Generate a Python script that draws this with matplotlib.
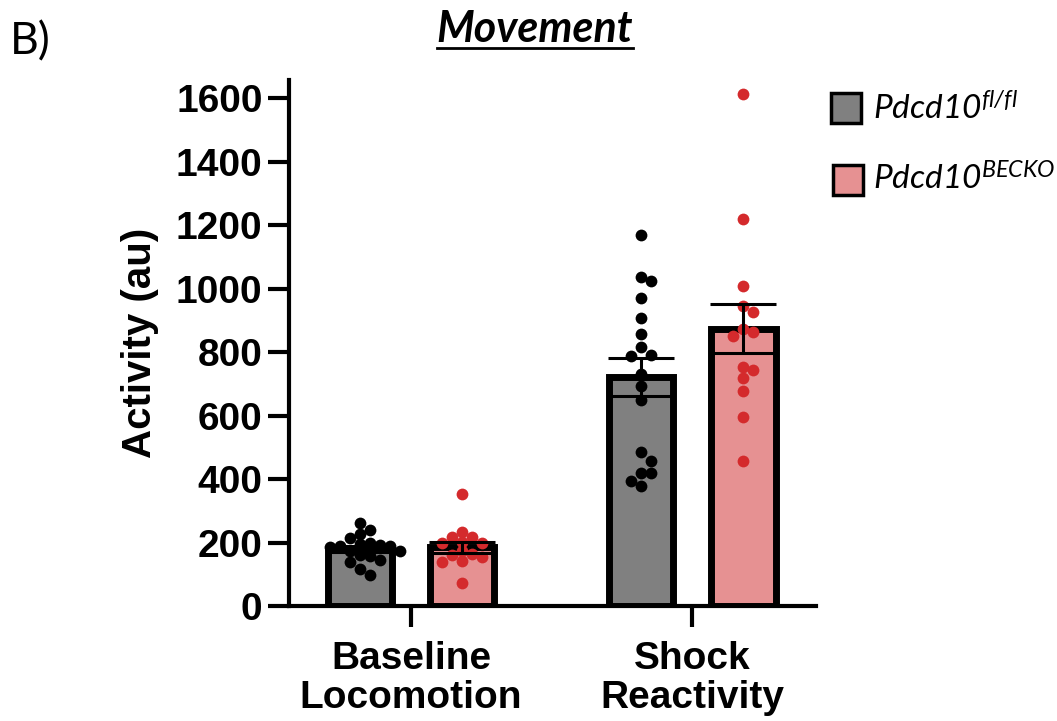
import numpy as np
import matplotlib
matplotlib.use('Agg')
import matplotlib.pyplot as plt
from matplotlib.patches import Rectangle
from matplotlib.lines import Line2D

plt.rcParams['font.family'] = ['Liberation Sans', 'DejaVu Sans']
plt.rcParams['mathtext.fontset'] = 'custom'
plt.rcParams['mathtext.it'] = 'Lato:italic'
plt.rcParams['mathtext.rm'] = 'Lato:italic'

GROUPS = ['Baseline\nLocomotion', 'Shock\nReactivity']
LEGEND_LABELS = [r'$\mathit{Pdcd10}^{fl/fl}$', r'$\mathit{Pdcd10}^{BECKO}$']

# single animals
flox_baseline = [262, 239, 226, 213, 200, 195, 192, 190, 188, 185, 173, 173,
                 160, 157, 145, 140, 116, 98]
becko_baseline = [352, 232, 218, 218, 203, 200, 197, 174, 164, 161, 153, 142,
                  140, 71]
flox_shock = [1170, 1037, 1025, 970, 908, 856, 815, 792, 788, 732, 693, 650,
              485, 458, 418, 418, 394, 378]
becko_shock = [1612, 1218, 1007, 945, 926, 873, 863, 851, 752, 745, 719, 677,
               596, 457]

# bar heights (mean) and error bars (SEM)
flox_mean = [180, 722]
flox_sem = [10, 59]
becko_mean = [185, 874]
becko_sem = [18, 76]

GREY = '#808080'
PINK = '#E69192'
RED = '#D42A2C'


def swarm_x(ax, values, center, step_px, min_dist_px):
    # simple greedy beeswarm, done in pixel space
    trans = ax.transData
    px_per_x = trans.transform((1, 0))[0] - trans.transform((0, 0))[0]
    ys = trans.transform(np.column_stack([np.zeros(len(values)), values]))[:, 1]
    placed = []
    xs = np.zeros(len(values))
    for i in np.argsort(values)[::-1]:
        for k in range(0, 30):
            cands = [0] if k == 0 else [k, -k]
            ok = None
            for c in cands:
                cx = c * step_px
                if all((cx - px) ** 2 + (ys[i] - py) ** 2 >= min_dist_px ** 2
                       for px, py in placed):
                    ok = cx
                    break
            if ok is not None:
                placed.append((ok, ys[i]))
                xs[i] = center + ok / px_per_x
                break
    return xs


fig = plt.figure(figsize=(10.57, 7.21), dpi=100)
ax = fig.add_axes([289 / 1057, 1 - 606 / 721, 527 / 1057, 526 / 721])

x = np.arange(len(GROUPS))
off = 0.183
width = 0.228
ax.set_xlim(-0.434, 1.441)
ax.set_ylim(0, 1657)

ax.bar(x - off, flox_mean, width, color=GREY, edgecolor='black', linewidth=5, zorder=2)
ax.bar(x + off, becko_mean, width, color=PINK, edgecolor='black', linewidth=5, zorder=2)

for i, vals in enumerate([flox_baseline, flox_shock]):
    ax.scatter(swarm_x(ax, vals, x[i] - off, 10, 9), vals, s=72, color='black',
               linewidths=0, zorder=3)
for i, vals in enumerate([becko_baseline, becko_shock]):
    ax.scatter(swarm_x(ax, vals, x[i] + off, 10, 9), vals, s=72, color=RED,
               linewidths=0, zorder=3)

ax.errorbar(x - off, flox_mean, yerr=flox_sem, fmt='none', ecolor='black',
            elinewidth=2.2, capsize=24, capthick=2.2, zorder=4)
ax.errorbar(x + off, becko_mean, yerr=becko_sem, fmt='none', ecolor='black',
            elinewidth=2.2, capsize=24, capthick=2.2, zorder=4)

for side in ['top', 'right']:
    ax.spines[side].set_visible(False)
for side in ['left', 'bottom']:
    ax.spines[side].set_linewidth(3)
    ax.spines[side].set_zorder(5)

ax.set_yticks(np.arange(0, 1601, 200))
ax.set_xticks(x)
ax.set_xticklabels(GROUPS, linespacing=1.1)
ax.tick_params(axis='both', length=15, width=3, labelsize=28)
ax.tick_params(axis='y', pad=4)
ax.tick_params(axis='x', pad=10)
for lab in ax.get_xticklabels() + ax.get_yticklabels():
    lab.set_fontweight('bold')

ax.set_ylabel('Activity (au)', fontsize=29, fontweight='bold')
ax.yaxis.set_label_coords(-0.247, 0.5)

# panel letter and title
fig.text(10 / 1057, 1 - 54 / 721, 'B)', fontsize=32, family='Lato', va='baseline')
title = fig.text(535 / 1057, 1 - 42 / 721, 'Movement', fontsize=31, family='Lato',
                 fontweight='bold', style='italic', ha='center', va='baseline')

# legend
legend_rows = [(GREY, 831, 123, 120), (PINK, 833, 195, 190)]
for (color, lx, ly, ty), label in zip(legend_rows, LEGEND_LABELS):
    fig.patches.append(Rectangle((lx / 1057, 1 - ly / 721), 30 / 1057, 30 / 721,
                                 transform=fig.transFigure, facecolor=color,
                                 edgecolor='black', linewidth=2.5))
    fig.text(873 / 1057, 1 - ty / 721, label, fontsize=24, va='baseline')

# underline the title
fig.canvas.draw()
bb = title.get_window_extent()
fig.add_artist(Line2D([bb.x0 / 1057, bb.x1 / 1057], [1 - 48 / 721, 1 - 48 / 721],
                      transform=fig.transFigure, color='black', linewidth=2))

fig.savefig('out.png', dpi=100)
